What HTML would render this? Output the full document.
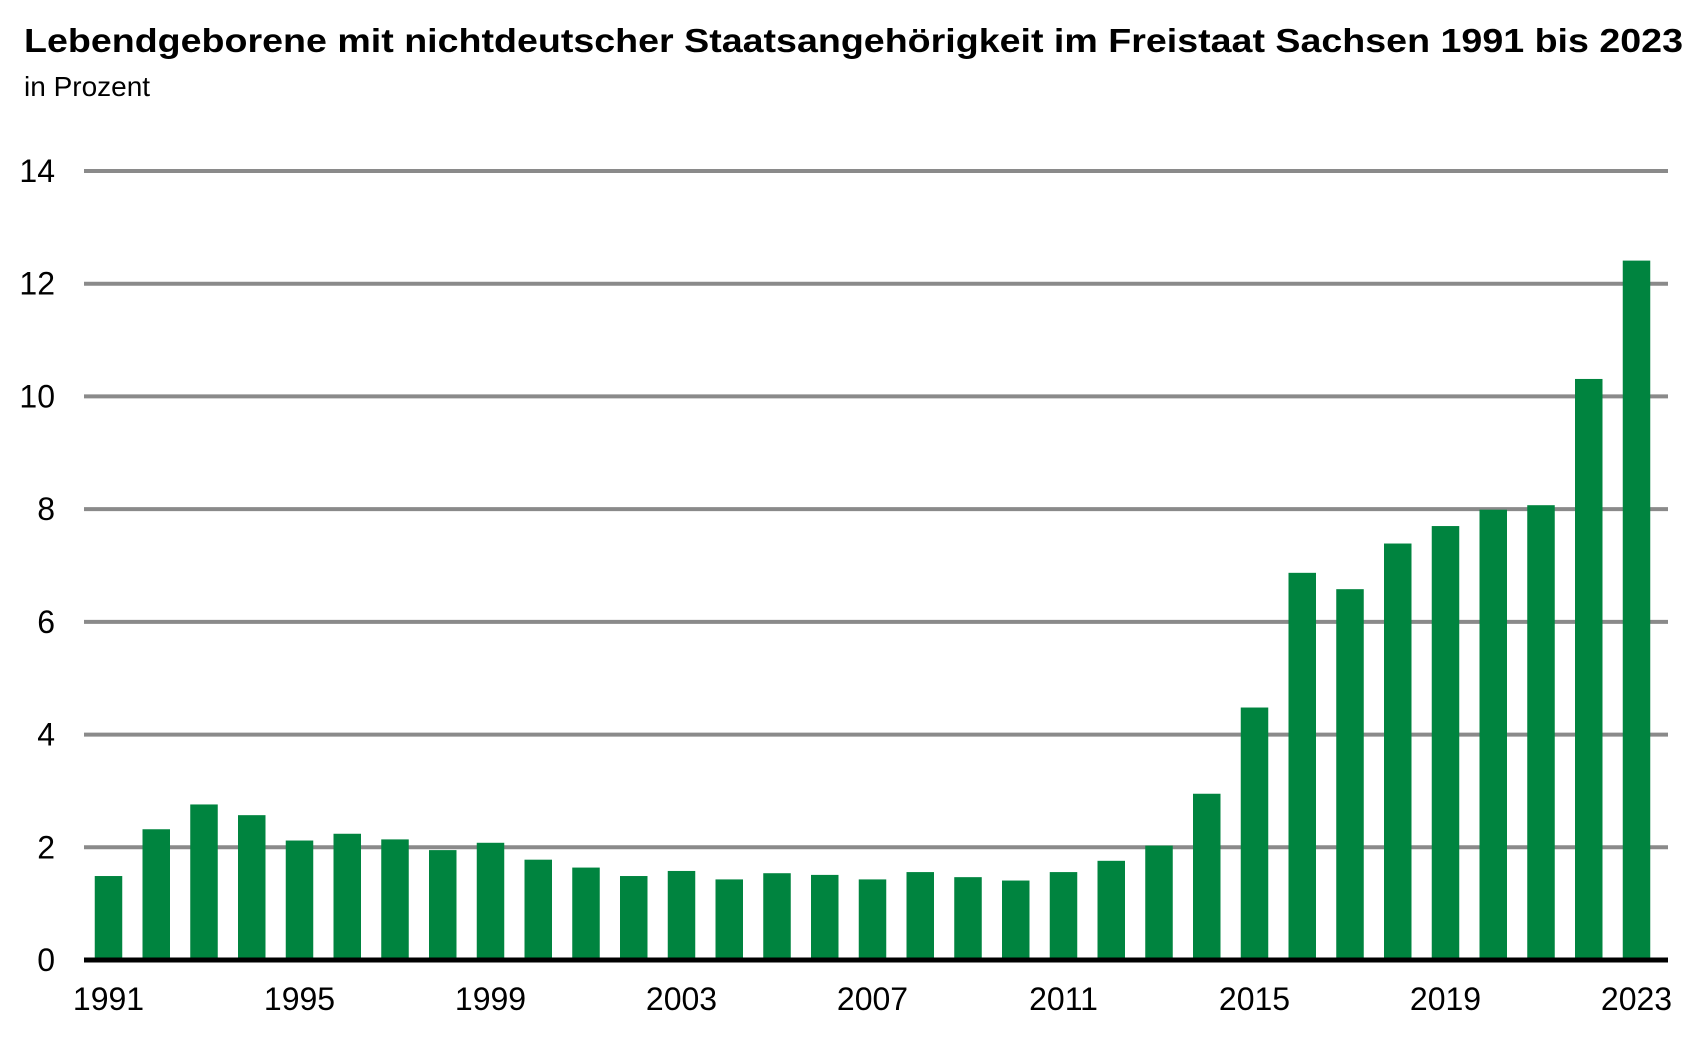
<!DOCTYPE html>
<html><head><meta charset="utf-8"><style>
html,body{margin:0;padding:0;background:#fff;}
svg{display:block;font-family:"Liberation Sans",Arial,sans-serif;}
</style></head><body>
<svg id="chart" width="1705" height="1045" viewBox="0 0 1705 1045" xmlns="http://www.w3.org/2000/svg">
<text x="24" y="52" font-size="33" font-weight="bold" fill="#000" textLength="1659" lengthAdjust="spacingAndGlyphs">Lebendgeborene mit nichtdeutscher Staatsangehörigkeit im Freistaat Sachsen 1991 bis 2023</text>
<text x="24" y="96" font-size="28" fill="#000">in Prozent</text>
<g id="grid"></g>
<g id="bars"></g>
<g id="axis"></g>
</svg>
<script>
const years = [1991,1992,1993,1994,1995,1996,1997,1998,1999,2000,2001,2002,2003,2004,2005,2006,2007,2008,2009,2010,2011,2012,2013,2014,2015,2016,2017,2018,2019,2020,2021,2022,2023];
const values = [1.49,2.32,2.76,2.57,2.12,2.24,2.14,1.95,2.08,1.78,1.64,1.49,1.58,1.43,1.54,1.51,1.43,1.56,1.47,1.41,1.56,1.76,2.03,2.95,4.48,6.87,6.58,7.39,7.70,7.99,8.07,10.31,12.41];
const yTicks = [0,2,4,6,8,10,12,14];
const xLabelYears = [1991,1995,1999,2003,2007,2011,2015,2019,2023];

const NS = 'http://www.w3.org/2000/svg';
const x0 = 84, x1 = 1668, yBase = 960, yTop = 171, yMax = 14;
const firstC = 108.5, step = 47.75, barW = 27.5;
const yScale = v => yBase - (v / yMax) * (yBase - yTop);
const xScale = yr => firstC + (yr - years[0]) * step;

const grid = document.getElementById('grid');
yTicks.forEach(t => {
  if (t > 0) {
    const l = document.createElementNS(NS, 'line');
    
    
    l.setAttribute('x1', x0); l.setAttribute('x2', x1);
    l.setAttribute('y1', yScale(t)); l.setAttribute('y2', yScale(t));
    l.setAttribute('stroke', '#8a8a8a'); l.setAttribute('stroke-width', '4');
    grid.appendChild(l);
  }
  const tx = document.createElementNS(NS, 'text');
  
  
  tx.setAttribute('x', 55); tx.setAttribute('y', yScale(t) + 11);
  tx.setAttribute('text-anchor', 'end'); tx.setAttribute('font-size', '32');
  tx.textContent = t;
  grid.appendChild(tx);
});

const bars = document.getElementById('bars');
years.forEach((yr, i) => {
  const r = document.createElementNS(NS, 'rect');
  
  
  r.setAttribute('x', xScale(yr) - barW / 2);
  r.setAttribute('y', yScale(values[i]));
  r.setAttribute('width', barW);
  r.setAttribute('height', yBase - yScale(values[i]));
  r.setAttribute('fill', '#00843f');
  bars.appendChild(r);
});

const axis = document.getElementById('axis');
const base = document.createElementNS(NS, 'line');


base.setAttribute('x1', x0); base.setAttribute('x2', x1);
base.setAttribute('y1', yBase); base.setAttribute('y2', yBase);
base.setAttribute('stroke', '#000'); base.setAttribute('stroke-width', '5');
axis.appendChild(base);
xLabelYears.forEach(yr => {
  const tx = document.createElementNS(NS, 'text');
  
  
  tx.setAttribute('x', xScale(yr)); tx.setAttribute('y', 1010);
  tx.setAttribute('text-anchor', 'middle'); tx.setAttribute('font-size', '32');
  tx.textContent = yr;
  axis.appendChild(tx);
});
</script>
</body></html>
